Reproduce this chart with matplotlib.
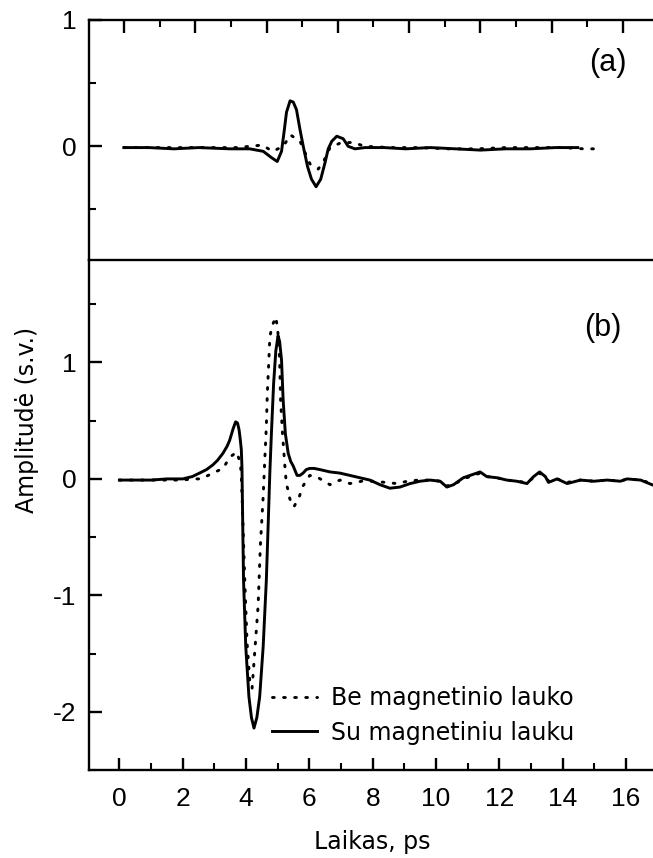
import matplotlib
matplotlib.use('Agg')
import matplotlib.pyplot as plt
from matplotlib.ticker import MultipleLocator

# --- panel (a): time (ps) and amplitude ---
ta_su = [0.0, 0.7, 1.4, 2.1, 2.97, 3.53, 3.91, 4.14, 4.3, 4.42, 4.49, 4.56, 4.66, 4.75, 4.84,
         4.94, 5.03, 5.15, 5.26, 5.39, 5.52, 5.64, 5.73, 5.83, 5.97, 6.15, 6.29, 6.48, 6.76,
         7.3, 7.9, 8.6, 9.3, 10.0, 10.7, 11.4, 12.1, 12.73]
aa_su = [-0.01, -0.01, -0.02, -0.01, -0.02, -0.02, -0.04, -0.09, -0.12, -0.04, 0.11, 0.27, 0.36,
         0.35, 0.29, 0.13, 0.0, -0.16, -0.26, -0.32, -0.26, -0.13, -0.02, 0.04, 0.08, 0.06, 0.0,
         -0.02, -0.01, -0.01, -0.02, -0.01, -0.02, -0.03, -0.02, -0.02, -0.01, -0.01]
ta_be = [0.0, 0.7, 1.4, 2.1, 2.8, 3.16, 3.53, 3.88, 4.17, 4.47, 4.67, 4.94, 5.22, 5.45, 5.6,
         5.78, 6.1, 6.43, 6.76, 7.5, 8.3, 9.1, 9.9, 10.7, 11.5, 12.3, 12.9, 13.2]
aa_be = [-0.01, -0.01, -0.01, -0.01, -0.01, -0.01, 0.0, 0.01, -0.04, 0.0, 0.09, 0.04, -0.14,
         -0.18, -0.12, -0.01, 0.03, 0.03, 0.0, -0.01, -0.01, -0.02, -0.02, -0.01, -0.01, -0.01,
         -0.02, -0.02]

# --- panel (b) ---
tb_su = [0.0, 0.5, 1.0, 1.5, 2.0, 2.3, 2.53, 2.75, 2.95, 3.1, 3.27, 3.4, 3.48, 3.59, 3.67, 3.73,
         3.78, 3.82, 3.85, 3.87, 3.89, 3.92, 3.99, 4.09, 4.17, 4.25, 4.34, 4.43, 4.54, 4.64,
         4.71, 4.75, 4.8, 4.87, 4.94, 5.01, 5.06, 5.12, 5.17, 5.24, 5.33, 5.41, 5.49, 5.61, 5.7,
         5.8, 5.9, 6.01, 6.15, 6.33, 6.65, 6.96, 7.28, 7.59, 7.91, 8.23, 8.54, 8.86, 9.18, 9.49,
         9.81, 10.13, 10.34, 10.55, 10.86, 11.18, 11.39, 11.6, 11.92, 12.23, 12.55, 12.87,
         13.08, 13.27, 13.45, 13.55, 13.82, 14.14, 14.56, 14.98, 15.4, 15.82, 16.03, 16.46, 16.82]
ab_su = [-0.01, -0.01, -0.01, 0.0, 0.0, 0.02, 0.05, 0.08, 0.12, 0.16, 0.22, 0.28, 0.33, 0.43,
         0.49, 0.48, 0.42, 0.33, 0.25, 0.1, -0.3, -0.87, -1.44, -1.87, -2.05, -2.14, -2.05,
         -1.87, -1.44, -0.87, -0.29, 0.05, 0.39, 0.82, 1.1, 1.23, 1.18, 1.02, 0.68, 0.39, 0.22,
         0.15, 0.11, 0.03, 0.03, 0.05, 0.08, 0.09, 0.09, 0.08, 0.06, 0.05, 0.03, 0.01, -0.01,
         -0.05, -0.08, -0.07, -0.04, -0.02, -0.01, -0.02, -0.07, -0.05, 0.01, 0.04, 0.06, 0.02,
         0.01, -0.01, -0.02, -0.04, 0.02, 0.06, 0.02, -0.03, 0.0, -0.04, -0.01, -0.02, -0.01,
         -0.02, 0.0, -0.01, -0.05]
tb_be = [0.0, 0.5, 1.0, 1.5, 2.0, 2.3, 2.58, 2.95, 3.27, 3.5, 3.71, 3.82, 3.85, 3.88, 3.95,
         4.03, 4.12, 4.19, 4.27, 4.38, 4.45, 4.54, 4.59, 4.64, 4.67, 4.72, 4.75, 4.83, 4.94,
         5.0, 5.06, 5.09, 5.15, 5.22, 5.27, 5.33, 5.38, 5.51, 5.67, 5.8, 6.01, 6.28, 6.65, 6.96,
         7.28, 7.65, 8.0, 8.4, 8.76, 9.09, 9.44, 9.81, 10.13, 10.34, 10.55, 10.86, 11.18, 11.39,
         11.6, 11.92, 12.23, 12.55, 12.87, 13.08, 13.27, 13.45, 13.55, 13.82, 14.14, 14.56,
         14.98, 15.4, 15.82, 16.03, 16.46, 16.82]
ab_be = [-0.01, -0.01, -0.01, -0.01, -0.01, 0.0, 0.0, 0.05, 0.09, 0.19, 0.23, 0.13, 0.03, -0.2,
         -0.8, -1.4, -1.75, -1.8, -1.5, -1.09, -0.58, -0.15, 0.16, 0.45, 0.73, 1.02, 1.22, 1.32,
         1.39, 1.28, 1.02, 0.68, 0.39, 0.13, -0.04, -0.1, -0.17, -0.24, -0.16, -0.06, 0.03, 0.01,
         -0.05, -0.01, -0.04, -0.02, -0.02, -0.03, -0.04, -0.02, -0.01, -0.01, -0.02, -0.06,
         -0.05, 0.0, 0.03, 0.05, 0.02, 0.01, -0.01, -0.02, -0.03, 0.01, 0.05, 0.02, -0.02, 0.0,
         -0.03, -0.01, -0.02, -0.01, -0.02, 0.0, -0.01, -0.04]

labels = ['Be magnetinio lauko', 'Su magnetiniu lauku']

W, H = 653, 858
fig = plt.figure(figsize=(W / 100, H / 100), dpi=100)
fig.patch.set_facecolor('white')

tick_font = {'family': 'Liberation Sans', 'size': 19}
lab_font = 'DejaVu Sans'
dot_style = (0, (0.6, 3.2))
LW = 2.1

ax_a = fig.add_axes([89 / W, 1 - 260 / H, (W - 89) / W, 240 / H])
ax_b = fig.add_axes([89 / W, 1 - 770 / H, (W - 89) / W, 510 / H])
ax_b.patch.set_visible(False)
ax_a.set_zorder(2)

# panel (a)
ax_a.plot(ta_be, aa_be, color='black', lw=LW, linestyle=dot_style, dash_capstyle='round')
ax_a.plot(ta_su, aa_su, color='black', lw=LW)
ax_a.set_xlim(-0.98, 14.84)
ax_a.set_ylim(-0.9, 1.0)
ax_a.xaxis.set_major_locator(MultipleLocator(2))
ax_a.xaxis.set_minor_locator(MultipleLocator(1))
ax_a.yaxis.set_major_locator(MultipleLocator(1))
ax_a.yaxis.set_minor_locator(MultipleLocator(0.5))
ax_a.tick_params(axis='x', which='both', direction='in', top=True, bottom=False,
                 labeltop=False, labelbottom=False)
ax_a.text(0.92, 0.82, '(a)', transform=ax_a.transAxes, fontsize=22,
          family='Liberation Sans', ha='center', va='center')

# panel (b)
ax_b.plot(tb_be, ab_be, color='black', lw=LW, linestyle=dot_style, dash_capstyle='round',
          label=labels[0])
ax_b.plot(tb_su, ab_su, color='black', lw=LW, label=labels[1])
ax_b.set_xlim(-0.96, 16.85)
ax_b.set_ylim(-2.5, 1.88)
ax_b.xaxis.set_major_locator(MultipleLocator(2))
ax_b.xaxis.set_minor_locator(MultipleLocator(1))
ax_b.yaxis.set_major_locator(MultipleLocator(1))
ax_b.yaxis.set_minor_locator(MultipleLocator(0.5))
ax_b.tick_params(axis='x', which='both', direction='in', top=False, bottom=True)
ax_b.spines['top'].set_visible(False)
ax_b.text(0.911, 0.867, '(b)', transform=ax_b.transAxes, fontsize=22,
          family='Liberation Sans', ha='center', va='center')

for ax in (ax_a, ax_b):
    ax.spines['right'].set_visible(False)
    for s in ax.spines.values():
        s.set_linewidth(1.7)
    ax.tick_params(axis='y', which='both', direction='in', left=True, right=False)
    ax.tick_params(which='major', length=9, width=1.7, pad=9)
    ax.tick_params(which='minor', length=5, width=1.5)

ax_b.set_xticks(range(0, 17, 2))
ax_b.set_xticklabels([str(v) for v in range(0, 17, 2)], fontdict=tick_font)
ax_b.tick_params(axis='x', which='major', pad=12)
ax_b.set_yticks([-2, -1, 0, 1])
ax_b.set_yticklabels(['-2', '-1', '0', '1'], fontdict=tick_font)
ax_a.set_yticks([0, 1])
ax_a.set_yticklabels(['0', '1'], fontdict=tick_font)

leg = ax_b.legend(loc='upper left', bbox_to_anchor=(272 / W, 1 - 686 / H),
                  bbox_transform=fig.transFigure, frameon=False, borderpad=0,
                  borderaxespad=0, handlelength=1.9, handletextpad=0.6,
                  labelspacing=0.45, prop={'family': lab_font, 'size': 17})

fig.text(27 / W, 1 - 420 / H, 'Amplitudė (s.v.)', rotation=90, ha='center', va='center',
         family=lab_font, fontsize=17)
fig.text(372 / W, 1 - 842 / H, 'Laikas, ps', ha='center', va='center',
         family=lab_font, fontsize=17)

fig.savefig('out.png', dpi=100, facecolor='white')
